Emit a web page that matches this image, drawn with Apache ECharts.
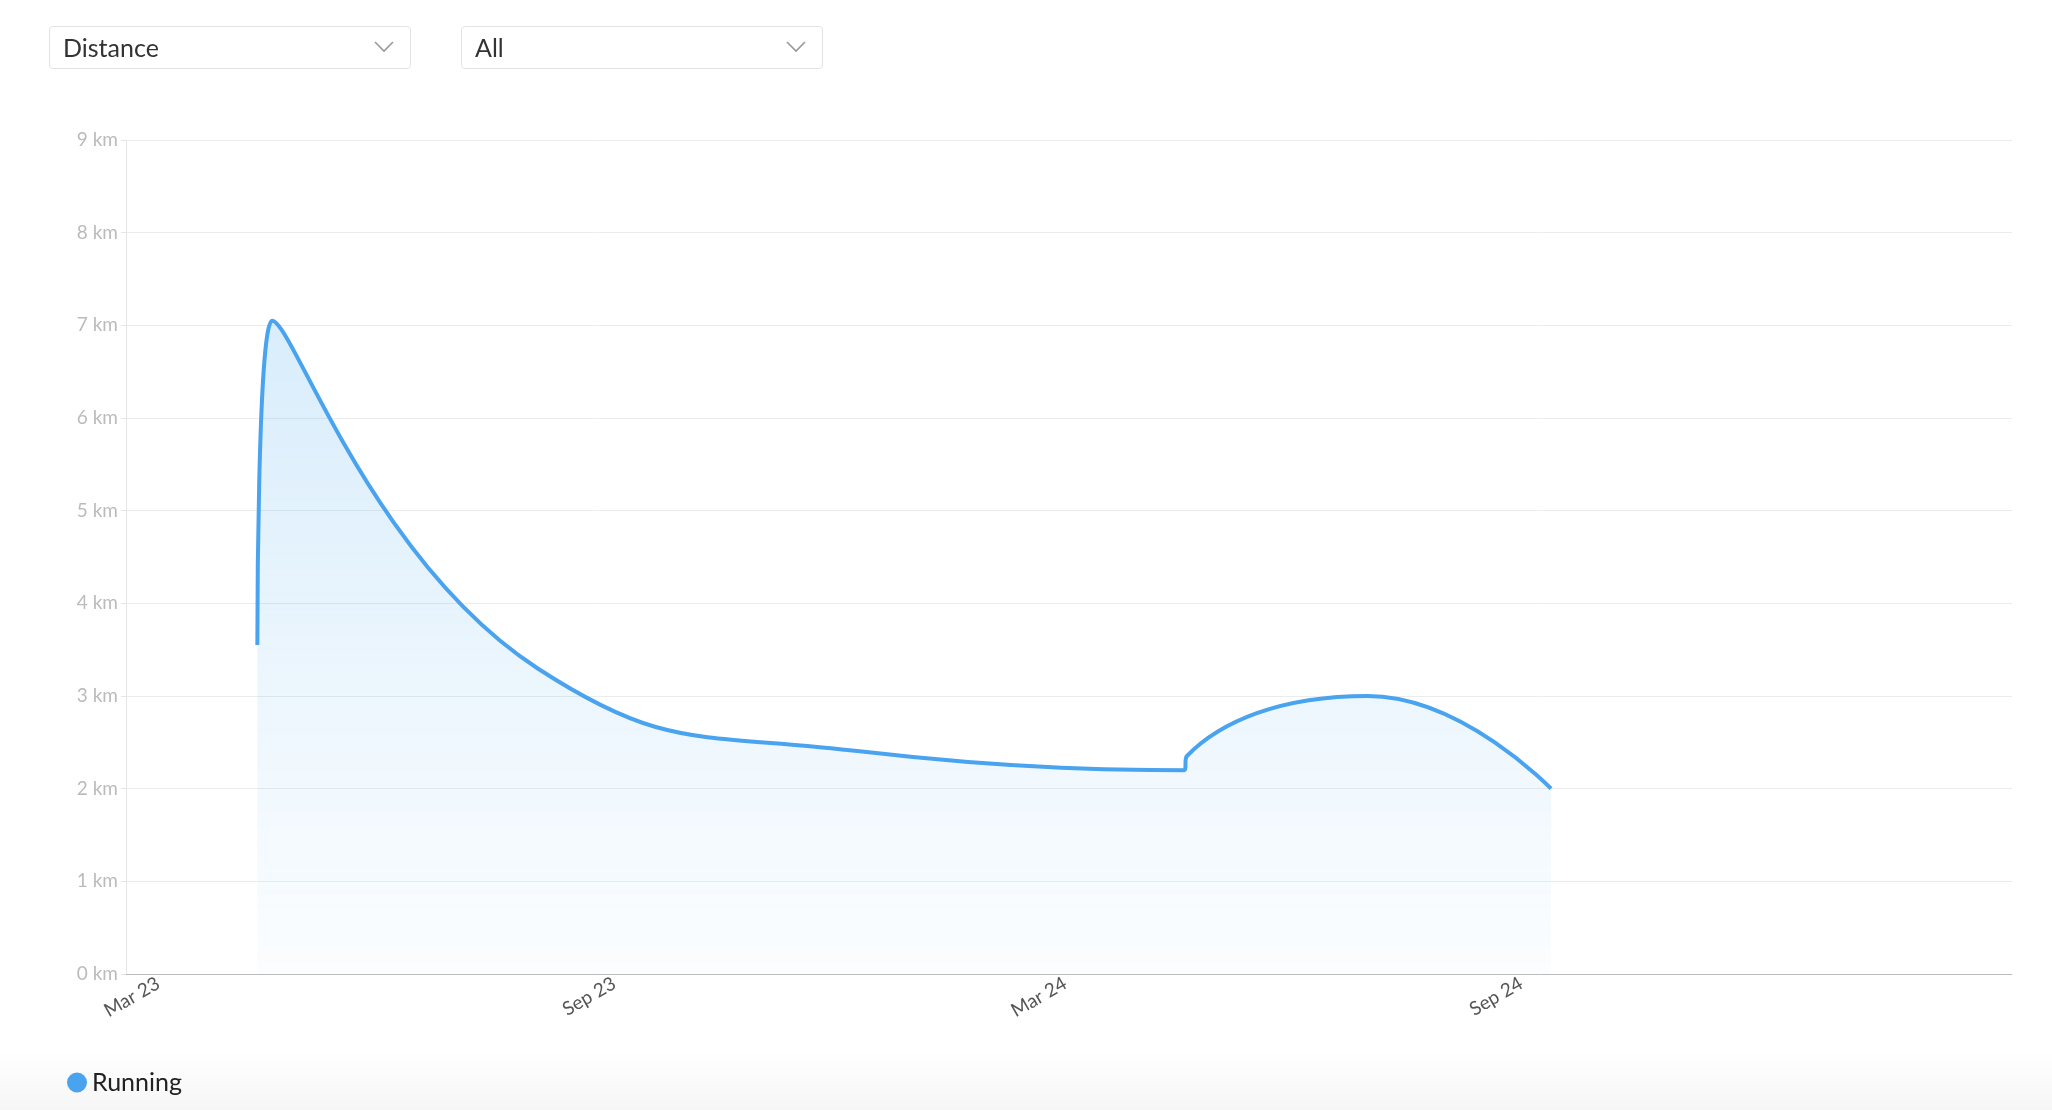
<!DOCTYPE html>
<html><head><meta charset="utf-8">
<script src="https://cdn.jsdelivr.net/npm/echarts@6/dist/echarts.min.js"></script>
<style>
body{margin:0;width:2052px;height:1110px;background:#fff;font-family:Lato,"Open Sans",sans-serif;overflow:hidden}
.dd{position:absolute;top:26px;height:43px;width:362px;border:1px solid #e3e3e3;border-radius:4px;box-sizing:border-box;font-size:25px;color:#333;line-height:41px;padding-left:13px}
.dd svg{position:absolute;right:16px;top:14px}
#c{position:absolute;left:0;top:0;width:2052px;height:1110px}
#fade{position:absolute;left:0;bottom:0;width:2052px;height:60px;background:linear-gradient(#fff,#f6f6f6)}
</style></head><body>
<div id="fade"></div>
<div id="c"></div>
<div class="dd" style="left:49px">Distance<svg width="20" height="12"><polyline points="1,1 10,10 19,1" fill="none" stroke="#999" stroke-width="1.6"/></svg></div>
<div class="dd" style="left:461px">All<svg width="20" height="12"><polyline points="1,1 10,10 19,1" fill="none" stroke="#999" stroke-width="1.6"/></svg></div>
<script>
const dates=['2023-04-10','2023-04-16','2023-08-01','2023-12-10','2024-04-18','2024-04-19','2024-07-01','2024-09-13'];
const values=[3.55,7.05,3.3,2.4,2.2,2.35,3.0,2.0];
const tickDates=['2023-03-01','2023-09-01','2024-03-01','2024-09-01'];
const tickLabels=['Mar 23','Sep 23','Mar 24','Sep 24'];
const seriesName='Running';
const ts=d=>Date.UTC(+d.slice(0,4),+d.slice(5,7)-1,+d.slice(8,10));
const tickTs=tickDates.map(ts);
const chart=echarts.init(document.getElementById('c'),null,{renderer:'canvas'});
chart.setOption({
  animation:false,
  grid:{left:126,right:40,top:140,bottom:136},
  legend:{left:62,bottom:10,itemWidth:20,itemHeight:20,icon:'circle',textStyle:{fontSize:25,color:'#222',fontFamily:'Lato'},data:[seriesName]},
  xAxis:{type:'value',min:ts('2023-02-16'),max:ts('2025-03-18'),
    axisLine:{lineStyle:{color:'#bbb'}},axisTick:{show:false},splitLine:{show:false},
    axisLabel:{rotate:30,fontSize:19,color:'#555',fontFamily:'Lato',customValues:tickTs,
      formatter:v=>{const i=tickTs.indexOf(v);return i>=0?tickLabels[i]:'';}}},
  yAxis:{type:'value',min:0,max:9,interval:1,
    axisLine:{show:true,lineStyle:{color:'#e5e5e5'}},
    axisLabel:{formatter:'{value} km',fontSize:19,color:'#bbb',fontFamily:'Lato'},
    splitLine:{lineStyle:{color:'#ececec'}}},
  series:[{name:seriesName,type:'line',smooth:0.5,showSymbol:false,
    data:dates.map((d,i)=>[ts(d),values[i]]),
    itemStyle:{color:'#4aa3ee'},lineStyle:{width:4,color:'#4aa3ee'},
    areaStyle:{color:new echarts.graphic.LinearGradient(0,0,0,1,[{offset:0,color:'rgba(74,170,238,0.3)'},{offset:1,color:'rgba(74,170,238,0.03)'}])}}]
});
</script></body></html>
